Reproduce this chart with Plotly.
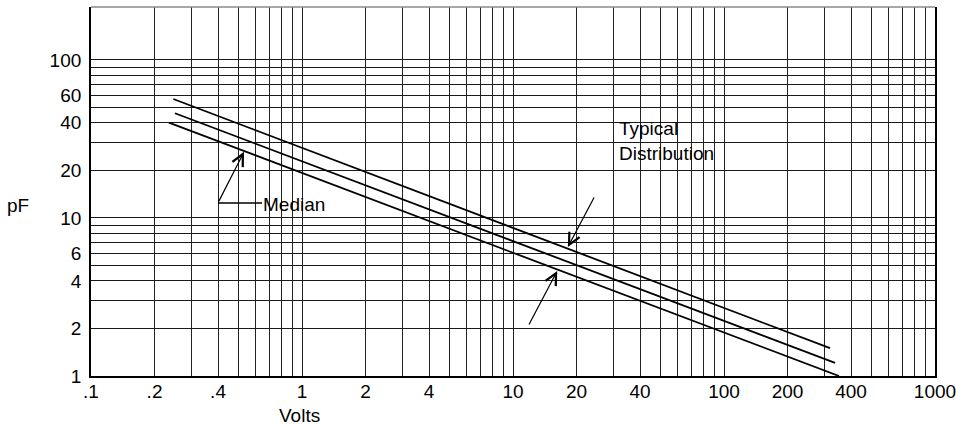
import math
import plotly.graph_objects as go

# ---- data (log-log, pF vs Volts) ----
volts_upper = [0.2455, 318]
pf_upper = [56.6, 1.50]
volts_median = [0.250, 336]
pf_median = [46.0, 1.21]
volts_lower = [0.234, 351]
pf_lower = [40.1, 1.0]

x_grid_vals = [0.1, 0.2, 0.3, 0.4, 0.5, 0.6, 0.7, 0.8, 0.9,
               1, 2, 3, 4, 5, 6, 7, 8, 9,
               10, 20, 30, 40, 50, 60, 70, 80, 90,
               100, 200, 300, 400, 500, 600, 700, 800, 900, 1000]
x_labels = {0.1: ".1", 0.2: ".2", 0.4: ".4", 1: "1", 2: "2", 4: "4",
            10: "10", 20: "20", 40: "40", 100: "100", 200: "200",
            400: "400", 1000: "1000"}
y_grid_vals = [1, 2, 3, 4, 5, 6, 7, 8, 9, 10,
               20, 30, 40, 50, 60, 70, 80, 90, 100]
y_labels = {1: "1", 2: "2", 4: "4", 6: "6", 10: "10", 20: "20",
            40: "40", 60: "60", 100: "100"}

# annotation anchor points (data values)
median_tip = (0.531, 26.2)
typ_tip_upper = (18.2, 6.55)
typ_tip_lower = (16.2, 4.62)

FONT = "Liberation Sans, Arial, sans-serif"
FS = 19

fig = go.Figure()
for xs, ys in [(volts_upper, pf_upper), (volts_median, pf_median), (volts_lower, pf_lower)]:
    fig.add_trace(go.Scatter(x=xs, y=ys, mode="lines",
                             line=dict(color="black", width=1.8),
                             showlegend=False, hoverinfo="skip"))

W, H = 956, 425
ML, MR, MT, MB = 91, 21, 7, 49
PW, PH = W - ML - MR, H - MT - MB


def paper_x(px):
    return (px - ML) / PW


def paper_y(py):
    return (H - MB - py) / PH


fig.update_layout(
    width=W, height=H,
    margin=dict(l=ML, r=MR, t=MT, b=MB, pad=0, autoexpand=False),
    paper_bgcolor="white", plot_bgcolor="white",
    font=dict(family=FONT, size=FS, color="black"),
    xaxis=dict(type="log", range=[-1, 3], automargin=False,
               tickvals=x_grid_vals,
               ticktext=[x_labels.get(round(v, 6), "") for v in x_grid_vals],
               showgrid=True, gridcolor="#222222", gridwidth=1.2,
               showline=True, linecolor="black", linewidth=1.6,
               ticks="", zeroline=False, tickangle=0,
               ticklabeloverflow="allow",
               ticklabelstandoff=-3),
    yaxis=dict(type="log", range=[0, 2.335], automargin=False,
               tickvals=y_grid_vals,
               ticktext=[y_labels.get(v, "") for v in y_grid_vals],
               showgrid=True, gridcolor="#1a1a1a", gridwidth=1.2,
               showline=True, linecolor="black", linewidth=1.8, mirror=True,
               ticks="", zeroline=False, ticklabeloverflow="allow",
               ticklabelstandoff=4),
)

shapes = [
    # top border (lighter grey)
    dict(type="line", xref="paper", yref="paper", x0=0, x1=1, y0=1, y1=1,
         line=dict(color="#8a8a8a", width=1.4)),
    # elbow of the Median leader
    dict(type="line", xref="paper", yref="paper",
         x0=paper_x(218), x1=paper_x(262), y0=paper_y(203), y1=paper_y(203),
         line=dict(color="black", width=1.3)),
]
fig.update_layout(shapes=shapes)

arrow_style = dict(showarrow=True, arrowhead=5, arrowsize=1.9, arrowwidth=1.2,
                   arrowcolor="black", standoff=0, text="")
annotations = [
    dict(x=math.log10(median_tip[0]), y=math.log10(median_tip[1]),
         xref="x", yref="y", ax=-26, ay=51, **arrow_style),
    dict(x=math.log10(typ_tip_upper[0]), y=math.log10(typ_tip_upper[1]),
         xref="x", yref="y", ax=27, ay=-51, **arrow_style),
    dict(x=math.log10(typ_tip_lower[0]), y=math.log10(typ_tip_lower[1]),
         xref="x", yref="y", ax=-29, ay=55, **arrow_style),
    dict(text="Median", xref="paper", yref="paper",
         x=paper_x(261), y=paper_y(204), xanchor="left", yanchor="middle",
         showarrow=False),
    dict(text="Typical<br>Distribution", xref="paper", yref="paper",
         x=paper_x(617), y=paper_y(141), xanchor="left", yanchor="middle",
         align="left", showarrow=False),
    dict(text="pF", xref="paper", yref="paper",
         x=paper_x(18), y=paper_y(206), xanchor="center", yanchor="middle",
         showarrow=False),
    dict(text="Volts", xref="paper", yref="paper",
         x=paper_x(299), y=paper_y(415), xanchor="center", yanchor="middle",
         showarrow=False),
]
fig.update_layout(annotations=annotations)

fig.write_html("out.html",
               config={"displayModeBar": False},
               post_script="document.body.style.margin='0';"
                           "document.body.style.overflow='hidden';")
